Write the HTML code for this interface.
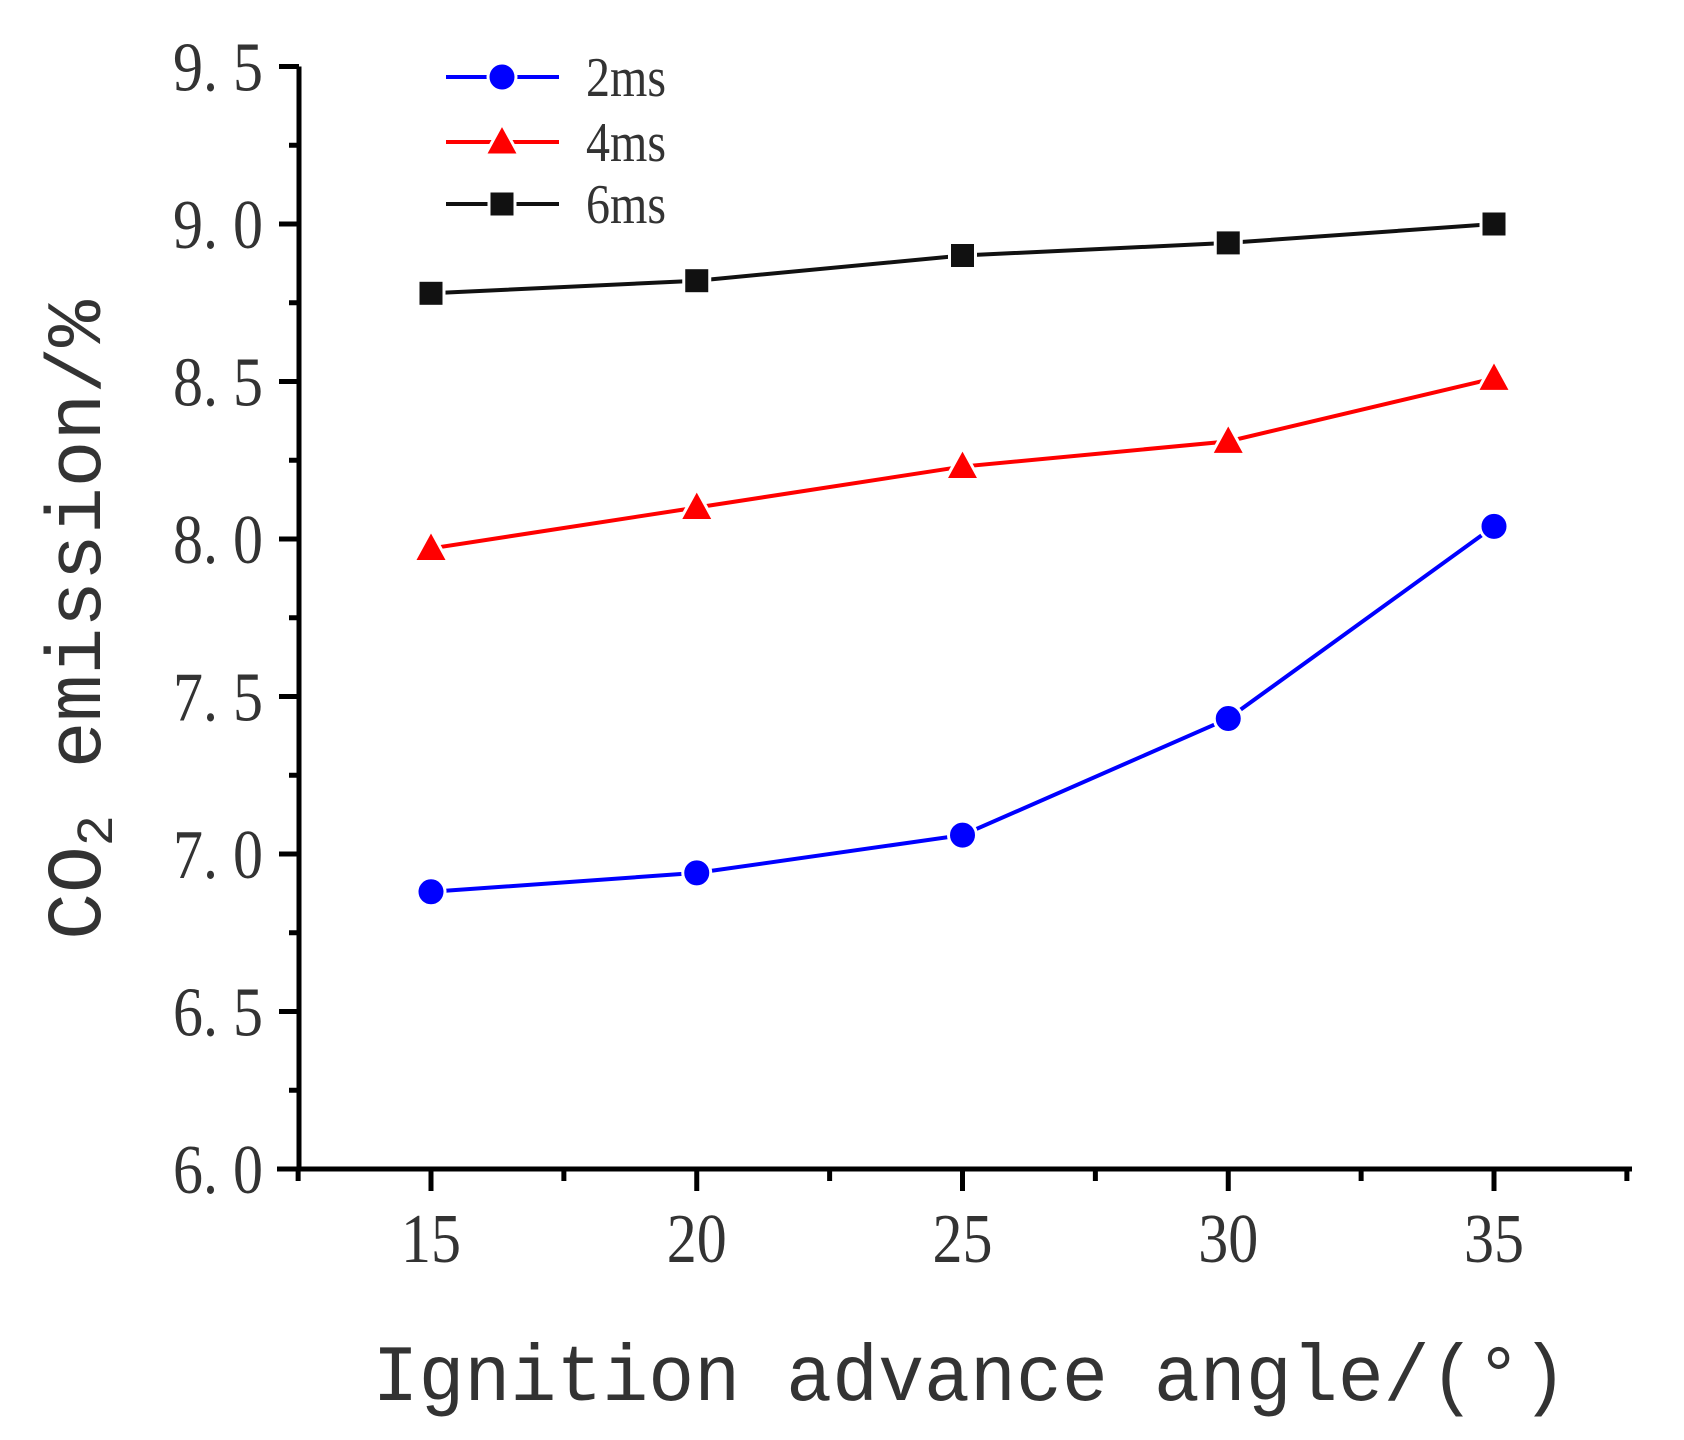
<!DOCTYPE html>
<html><head><meta charset="utf-8"><style>
html,body{margin:0;padding:0;background:#fff;}
svg{display:block}
</style></head><body>
<svg id="chart" width="1684" height="1440" viewBox="0 0 1684 1440" xmlns="http://www.w3.org/2000/svg">
<g id="axes"></g>
<g id="series"></g>
<g id="legend"></g>
<text transform="translate(100,620) rotate(-90)" text-anchor="middle" font-family="Liberation Mono, monospace" font-size="78" fill="#333">CO<tspan font-size="52" dy="12">2</tspan><tspan dy="-12"> emission/%</tspan></text>
<text x="970" y="1400" text-anchor="middle" font-family="Liberation Mono, monospace" font-size="80" textLength="1195" lengthAdjust="spacingAndGlyphs" fill="#333">Ignition advance angle/(°)</text>
</svg>
<script>
const xCategories = [15, 20, 25, 30, 35];
const series2ms = [6.88, 6.94, 7.06, 7.43, 8.04];
const series4ms = [7.97, 8.10, 8.23, 8.31, 8.51];
const series6ms = [8.78, 8.82, 8.90, 8.94, 9.00];
const yTickLabels = ["6. 0","6. 5","7. 0","7. 5","8. 0","8. 5","9. 0","9. 5"];
const yTickValues = [6.0,6.5,7.0,7.5,8.0,8.5,9.0,9.5];
const xTickLabels = ["15","20","25","30","35"];
const legendLabels = ["2ms","4ms","6ms"];

const NS="http://www.w3.org/2000/svg";
function X(v){return 431+(v-15)*(1494-431)/20;}
function Y(v){return 1169+(v-6)*(66.5-1169)/3.5;}
function mk(tag,attrs,parent){const e=document.createElementNS(NS,tag);for(const k in attrs)e.setAttribute(k,attrs[k]);parent.appendChild(e);return e;}
const axes=document.getElementById('axes');
let e;
e=mk('line',{x1:299,y1:Y(9.5),x2:299,y2:1171,stroke:'#000','stroke-width':5},axes);


e=mk('line',{x1:277,y1:1169,x2:1632,y2:1169,stroke:'#000','stroke-width':5},axes);


yTickValues.forEach((v,i)=>{
  const t=mk('line',{x1:279,y1:Y(v),x2:299,y2:Y(v),stroke:'#000','stroke-width':5},axes);
  
  
  if(i<yTickValues.length-1){
    const m=mk('line',{x1:289,y1:Y(v+0.25),x2:299,y2:Y(v+0.25),stroke:'#000','stroke-width':5},axes);
    
    
  }
  const l=mk('text',{x:263,y:Y(v)+24,'text-anchor':'end','font-family':'Liberation Serif, serif','font-size':70,textLength:90,lengthAdjust:'spacingAndGlyphs',fill:'#333'},axes);
  l.textContent=yTickLabels[i];
  
  
});
xCategories.forEach((c,i)=>{
  const t=mk('line',{x1:X(c),y1:1169,x2:X(c),y2:1191,stroke:'#000','stroke-width':5},axes);
  
  
  const l=mk('text',{x:X(c),y:1262,'text-anchor':'middle','font-family':'Liberation Serif, serif','font-size':70,textLength:60,lengthAdjust:'spacingAndGlyphs',fill:'#333'},axes);
  l.textContent=xTickLabels[i];
  
  
});
[12.5,17.5,22.5,27.5,32.5,37.5].forEach(v=>{
  const m=mk('line',{x1:X(v),y1:1169,x2:X(v),y2:1181,stroke:'#000','stroke-width':5},axes);
  
  
});

function marker(type,x,y,color,parent){
  let m;
  if(type==='circle') m=mk('circle',{cx:x,cy:y,r:14,fill:color},parent);
  else if(type==='tri') m=mk('polygon',{points:`${x},${y-18} ${x-17},${y+13} ${x+17},${y+13}`,fill:color},parent);
  else m=mk('rect',{x:x-13,y:y-13,width:26,height:26,fill:color},parent);
  return m;
}
const sg=document.getElementById('series');
const defs=[[series2ms,'#0000ff','circle','series-2ms'],[series4ms,'#ff0000','tri','series-4ms'],[series6ms,'#111','square','series-6ms']];
defs.forEach(([vals,color,type,name])=>{
  const g=mk('g',{},sg);
  
  
  const pts=vals.map((v,i)=>X(xCategories[i])+','+Y(v)).join(' ');
  const pl=mk('polyline',{points:pts,fill:'none',stroke:color,'stroke-width':4},g);
  
  
  vals.forEach((v,i)=>{
    const m=marker(type,X(xCategories[i]),Y(v),color,g);
    m.setAttribute('stroke','#fff');
    m.setAttribute('stroke-width','3');
    
    
  });
});
const lg=document.getElementById('legend');
const legY=[77,142,204];
defs.forEach(([vals,color,type,name],i)=>{
  const g=mk('g',{},lg);
  
  
  mk('line',{x1:446,y1:legY[i],x2:559,y2:legY[i],stroke:color,'stroke-width':4},g);
  const m=marker(type,502,legY[i],color,g);
  m.setAttribute('stroke','#fff');
  m.setAttribute('stroke-width','3');
  const t=mk('text',{x:586,y:legY[i]+19,'font-family':'Liberation Serif, serif','font-size':56,textLength:80,lengthAdjust:'spacingAndGlyphs',fill:'#333'},g);
  t.textContent=legendLabels[i];
});
</script>
</body></html>
